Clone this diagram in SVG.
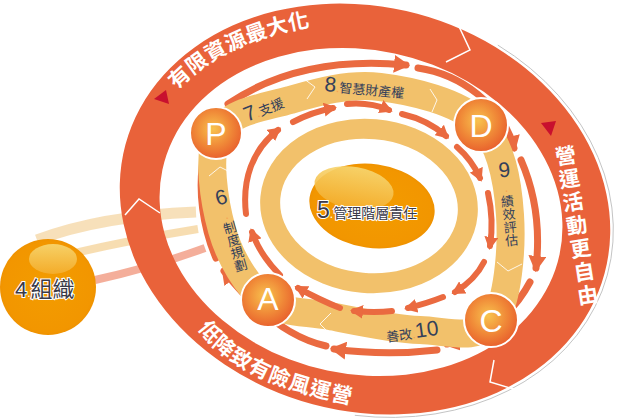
<svg xmlns="http://www.w3.org/2000/svg" width="640" height="418" viewBox="0 0 640 418">
<defs>
<style>
.ring{fill:#E9623A}
.rt{font-family:"Noto Sans CJK TC","Noto Sans CJK SC",sans-serif;font-weight:bold;font-size:21px;fill:#fff}
.arr{fill:none;stroke:#EA6A40;stroke-linecap:round}
.ao{stroke-width:7}
.ai{stroke-width:6}
.band{fill:none;stroke:#F2C16B}
.lbl{font-family:"Noto Sans CJK TC","Noto Sans CJK SC",sans-serif;font-size:13px;fill:#34405A}
.num{font-family:"Liberation Sans","Noto Sans",sans-serif;font-size:21px;fill:#34405A}
.dot{font-family:"Liberation Sans",sans-serif;font-size:12px;fill:#F5A050}
.ltr{font-family:"Liberation Sans",Arial,sans-serif;font-size:32px;fill:#fff}
.circ{fill:url(#gC);stroke:#fff;stroke-width:2}
.chev{fill:none;stroke:#fff;stroke-width:1.5}
.bchev{fill:none;stroke:#fff;stroke-width:1;opacity:0.85}
.vert{writing-mode:vertical-rl;text-orientation:upright}
.big{font-family:"Liberation Sans","Noto Sans CJK TC",sans-serif;fill:#3A3A48;stroke:#fff;stroke-width:2;paint-order:stroke}
</style>
<radialGradient id="gC" cx="0.45" cy="0.42" r="0.6">
<stop offset="0" stop-color="#F8C24E"/>
<stop offset="0.55" stop-color="#F08A38"/>
<stop offset="1" stop-color="#E85E2C"/>
</radialGradient>
<radialGradient id="gS" cx="0.5" cy="0.5" r="0.55">
<stop offset="0" stop-color="#F39C00"/>
<stop offset="0.85" stop-color="#F29600"/>
<stop offset="1" stop-color="#EB8C00"/>
</radialGradient>
<linearGradient id="gH" x1="0" y1="0" x2="0" y2="1">
<stop offset="0" stop-color="#F7D772"/>
<stop offset="1" stop-color="#F4AE2E"/>
</linearGradient>
<marker id="hO" markerUnits="userSpaceOnUse" markerWidth="16" markerHeight="18" viewBox="0 0 16 18" refX="12" refY="9" orient="auto"><path d="M0,0 L16,9 L0,18 z" fill="#EA6A40"/></marker>
<marker id="hI" markerUnits="userSpaceOnUse" markerWidth="13" markerHeight="14" viewBox="0 0 13 14" refX="9" refY="7" orient="auto"><path d="M0,0 L13,7 L0,14 z" fill="#EA6A40"/></marker>
<path id="tp1" d="M 177,90 Q 228,36 334,23"/>
<path id="tp2" d="M 198,328 Q 235,385 362,406"/>
</defs>

<g id="links">
<path d="M37,240 Q100,216 196,212" fill="none" stroke="#F6DDB2" stroke-width="11" opacity="0.9"/>
<path d="M75,253 Q130,240 198,229" fill="none" stroke="#F6D9A8" stroke-width="8" opacity="0.9"/>
<path d="M95,280 Q150,268 205,248" fill="none" stroke="#F3A58F" stroke-width="8" opacity="0.9"/>
</g>

<g id="outer-ring">
<path class="ring" fill-rule="evenodd" d="M 604.6,273.2 A 248 202 15 1 1 125.4,144.8 A 248 202 15 1 1 604.6,273.2 Z M 559.6,254.2 A 203 162 12 1 1 162.4,169.8 A 203 162 12 1 1 559.6,254.2 Z"/>
<path d="M 497.8,45.1 A 251 205 15 0 1 354.8,415.3" fill="none" stroke="#C4C4C4" stroke-width="1"/>
<polyline class="chev" points="455,18 470,50 446,62"/>
<polyline class="chev" points="494,360 490,382 517,390"/>
<polyline class="chev" points="125,215 139,199 160,213"/>
<polygon points="154,99 166,90 169,104" fill="#C8102E"/>
<polygon points="541,123 556,121 551,136" fill="#C8102E"/>
<text class="rt" letter-spacing="0.5"><textPath href="#tp1">有限資源最大化</textPath></text>
<text class="rt vert" x="564" y="145" font-size="18" letter-spacing="2.5" transform="rotate(-9 564 145)">營運活動更自由</text>
<text class="rt" letter-spacing="1"><textPath href="#tp2">低降致有險風運營</textPath></text>
</g>

<g id="connectors">
<path class="arr ao" d="M228,104 Q300,55 406,65" marker-end="url(#hO)"/>
<path class="arr ao" d="M418,68 C460,74 503,105 514,148" marker-end="url(#hO)"/>
<path class="arr ao" d="M521,160 C534,190 541,225 536,268" marker-end="url(#hO)"/>
<path class="arr ao" d="M530,282 C515,310 490,335 447,344" marker-end="url(#hO)"/>
<path class="arr ao" d="M437,350 Q385,356 334,349" marker-end="url(#hO)"/>
<path class="arr ao" d="M326,346 C290,338 255,310 224,271" marker-end="url(#hO)"/>
<path class="arr ao" d="M216,258 C204,230 196,190 205,150"/>
</g>

<g id="band">
<path class="band" stroke-width="28" d="M218,133 C229.3,111.3 263,107.7 290,100 C317,92.3 348.3,83.2 380,87 C411.7,90.8 458.3,101.7 480,123 C501.7,144.3 507.8,181.8 510,215 C512.2,248.2 508,302.8 493,322 C478,341.2 447.2,331 420,330 C392.8,329 355.8,321 330,316 C304.2,311 283,314.3 265,300 C247,285.7 229.8,257.8 222,230 C214.2,202.2 206.7,154.7 218,133 Z"/>
<polyline class="bchev" points="300,76 315,87 307,99"/>
<polyline class="bchev" points="430,89 437,100 432,112"/>
<polyline class="bchev" points="497,262 508,271 522,264"/>
<polyline class="bchev" points="331,313 320,324 332,336"/>
<polyline class="bchev" points="209,176 220,167 234,174"/>
</g>

<g id="band-labels">
<text transform="translate(247,122) rotate(-22)"><tspan class="num">7</tspan><tspan class="dot">.</tspan><tspan class="lbl">支援</tspan></text>
<text transform="translate(324,91) rotate(5)"><tspan class="num">8</tspan><tspan class="dot">.</tspan><tspan class="lbl" font-size="14">智慧財產權</tspan></text>
<text class="vert" x="503" y="158" transform="rotate(-6 503 158)"><tspan class="num" font-size="19">9</tspan><tspan class="dot">.</tspan><tspan class="lbl">績效評估</tspan></text>
<text class="vert" x="218" y="186" transform="rotate(-16 218 186)"><tspan class="num" font-size="19">6</tspan><tspan class="dot">.</tspan><tspan class="lbl">制度規劃</tspan></text>
<text transform="translate(387,342) rotate(-8)"><tspan class="lbl">善改</tspan><tspan class="dot">.</tspan><tspan class="num">10</tspan></text>
</g>

<g id="inner-arrows">
<path class="arr ai" d="M280,275 Q260,255 252,232" marker-end="url(#hI)"/>
<path class="arr ai" d="M246,214 C242,180 252,150 278,130" marker-end="url(#hI)"/>
<path class="arr ai" d="M293,122 Q312,112 333,108" marker-end="url(#hI)"/>
<path class="arr ai" d="M347,104 Q370,102 389,110" marker-end="url(#hI)"/>
<path class="arr ai" d="M402,114 Q428,120 446,136" marker-end="url(#hI)"/>
<path class="arr ai" d="M457,147 Q472,160 480,178" marker-end="url(#hI)"/>
<path class="arr ai" d="M488,193 Q494,220 490,246" marker-end="url(#hI)"/>
<path class="arr ai" d="M484,262 Q475,280 455,292" marker-end="url(#hI)"/>
<path class="arr ai" d="M443,297 Q428,303 408,308" marker-end="url(#hI)"/>
<path class="arr ai" d="M392,311 Q375,313 354,311" marker-end="url(#hI)"/>
<path class="arr ai" d="M340,308 Q320,300 298,288" marker-end="url(#hI)"/>
</g>

<g id="inner-ring">
<ellipse cx="369" cy="206" rx="99" ry="77" transform="rotate(5 369 206)" fill="none" stroke="#F2C16B" stroke-width="20"/>
</g>

<g id="node-5">
<ellipse cx="372" cy="206" rx="63" ry="42" transform="rotate(8 372 206)" fill="url(#gS)"/>
<ellipse cx="354" cy="188" rx="40" ry="21" transform="rotate(10 354 188)" fill="url(#gH)" opacity="0.9"/>
<text class="big" x="317" y="218"><tspan font-size="23">5</tspan><tspan font-size="12" fill="#fff" stroke="none">.</tspan><tspan font-size="14">管理階層責任</tspan></text>
</g>

<g id="node-P"><circle class="circ" cx="216" cy="133" r="26"/><text class="ltr" x="216" y="145" text-anchor="middle">P</text></g>
<g id="node-D"><circle class="circ" cx="481" cy="125" r="27"/><text class="ltr" x="481" y="137" text-anchor="middle">D</text></g>
<g id="node-C"><circle class="circ" cx="491" cy="320" r="27"/><text class="ltr" x="491" y="332" text-anchor="middle">C</text></g>
<g id="node-A"><circle class="circ" cx="268" cy="300" r="27"/><text class="ltr" x="268" y="310" font-size="31" text-anchor="middle">A</text></g>

<g id="node-4">
<circle cx="48" cy="287" r="48" fill="url(#gS)"/>
<ellipse cx="53" cy="259" rx="24" ry="15" fill="url(#gH)" opacity="0.9"/>
<text class="big" x="15" y="297"><tspan font-size="22">4</tspan><tspan font-size="12" fill="#fff" stroke="none">.</tspan><tspan font-size="22">組織</tspan></text>
</g>
</svg>
